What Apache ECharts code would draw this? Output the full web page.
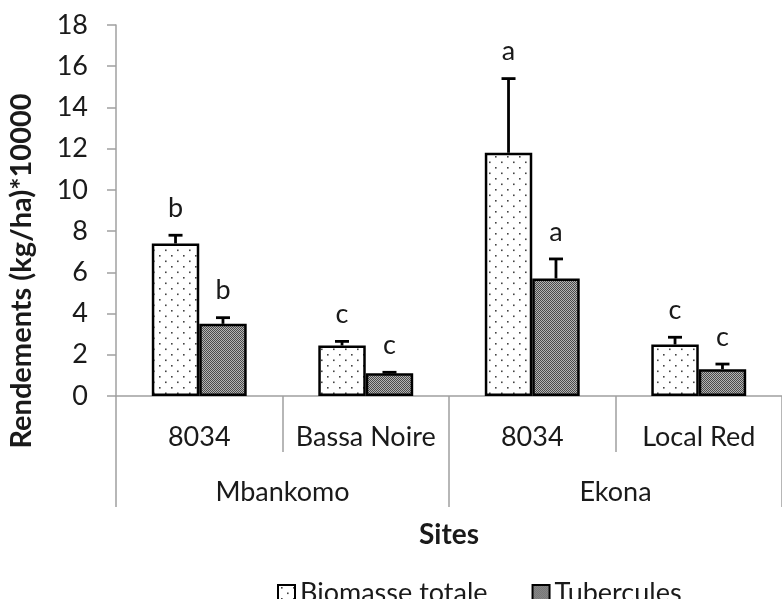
<!DOCTYPE html>
<html>
<head>
<meta charset="utf-8">
<script src="https://cdn.jsdelivr.net/npm/echarts@6/dist/echarts.min.js"></script>
<style>
  html, body { margin: 0; padding: 0; background: #fff; }
  #chart { width: 782px; height: 599px; }
</style>
</head>
<body>
<div id="chart"></div>
<script>
// rendements par variete et par site
const varieties = ['8034', 'Bassa Noire', '8034', 'Local Red']
const sites = ['Mbankomo', 'Ekona']
const yTicks = [0, 18, 2]  // min, max, interval

const biomasse = [7.4, 2.45, 11.8, 2.5]
const biomasseErr = [0.4, 0.2, 3.6, 0.35]
const biomasseLetters = ['b', 'c', 'a', 'c']

const tubercules = [3.5, 1.1, 5.7, 1.3]
const tuberculesErr = [0.3, 0.05, 0.95, 0.25]
const tuberculesLetters = ['b', 'c', 'a', 'c']

const FONT = 'Lato'
const FS = 27
const TXT = '#1a1a1a'
const AXIS = '#a0a0a0'
const GAP = 0.43

// motifs de remplissage
function dotPattern() {
  const c = document.createElement('canvas')
  c.width = 12; c.height = 11
  const ctx = c.getContext('2d')
  ctx.fillStyle = '#fff'
  ctx.fillRect(0, 0, 12, 11)
  ctx.fillStyle = '#444'
  ctx.fillRect(3, 2, 1.6, 1.6)
  ctx.fillRect(9, 7.5, 1.6, 1.6)
  return c
}
function checkerPattern() {
  const c = document.createElement('canvas')
  c.width = 2; c.height = 2
  const ctx = c.getContext('2d')
  ctx.fillStyle = '#b4b4b4'
  ctx.fillRect(0, 0, 2, 2)
  ctx.fillStyle = '#4a4a4a'
  ctx.fillRect(0, 0, 1, 1)
  ctx.fillRect(1, 1, 1, 1)
  return c
}

const dotFill = { image: dotPattern(), repeat: 'repeat' }
const greyFill = { image: checkerPattern(), repeat: 'repeat' }

function errorSeries(name, values, errs, letters, side) {
  return {
    name: name,
    type: 'custom',
    xAxisIndex: 0,
    z: 5,
    data: values.map((v, i) => [i, v, errs[i]]),
    renderItem: (params, api) => {
      const i = api.value(0), v = api.value(1), e = api.value(2)
      const band = api.size([1, 0])[0]
      const barW = band * (1 - GAP) / 2
      const p0 = api.coord([i, v])
      const p1 = api.coord([i, v + e])
      const x = p0[0] + side * barW / 2
      const stroke = { stroke: '#000', lineWidth: 2.8 }
      return {
        type: 'group',
        children: [
          { type: 'line', shape: { x1: x, y1: p0[1], x2: x, y2: p1[1] }, style: stroke },
          { type: 'line', shape: { x1: x - 7, y1: p1[1], x2: x + 7, y2: p1[1] }, style: stroke },
          {
            type: 'text',
            style: {
              text: letters[params.dataIndex], x: x, y: p1[1] - 27,
              align: 'center', verticalAlign: 'middle',
              fontFamily: FONT, fontSize: FS, fill: TXT
            }
          }
        ]
      }
    }
  }
}

const chart = echarts.init(document.getElementById('chart'))

chart.setOption({
  animation: false,
  backgroundColor: '#fff',
  grid: { left: 116, top: 25, width: 676, height: 371 },
  legend: {
    data: ['Biomasse totale', 'Tubercules'],
    left: 272, top: 575,
    icon: 'rect', itemWidth: 17, itemHeight: 17, itemGap: 44,
    textStyle: { fontFamily: FONT, fontSize: FS, color: TXT }
  },
  graphic: [{
    type: 'text',
    x: 22, y: 271,
    rotation: Math.PI / 2,
    style: {
      text: 'Rendements (kg/ha)*10000',
      align: 'center', verticalAlign: 'middle',
      fontFamily: FONT, fontSize: 29, fontWeight: 'bold', fill: TXT
    }
  }],
  xAxis: [
    {
      type: 'category', data: varieties, position: 'bottom',
      axisLine: { lineStyle: { color: AXIS, width: 1.5 } },
      axisTick: { show: true, interval: 0, length: 56, lineStyle: { color: AXIS, width: 1.5 } },
      axisLabel: { interval: 0, margin: 28, fontFamily: FONT, fontSize: FS, color: TXT }
    },
    {
      type: 'category', data: sites, position: 'bottom', offset: 0,
      axisLine: { show: false },
      axisTick: { show: true, interval: 0, length: 111, lineStyle: { color: AXIS, width: 1.5 } },
      axisLabel: { interval: 0, margin: 83, fontFamily: FONT, fontSize: FS, color: TXT },
      name: 'Sites', nameLocation: 'middle', nameGap: 125,
      nameTextStyle: { fontFamily: FONT, fontSize: 28, fontWeight: 'bold', color: TXT }
    }
  ],
  yAxis: {
    type: 'value', min: yTicks[0], max: yTicks[1], interval: yTicks[2],
    axisLine: { show: true, lineStyle: { color: AXIS, width: 1.5 } },
    axisTick: { show: true, length: 9, lineStyle: { color: AXIS, width: 1.5 } },
    axisLabel: { margin: 28, fontFamily: FONT, fontSize: FS, color: TXT },
    splitLine: { show: false }
  },
  series: [
    {
      name: 'Biomasse totale', type: 'bar', xAxisIndex: 0,
      data: biomasse,
      barGap: 0, barCategoryGap: (GAP * 100) + '%',
      itemStyle: { color: dotFill, borderColor: '#000', borderWidth: 2.5 }
    },
    {
      name: 'Tubercules', type: 'bar', xAxisIndex: 0,
      data: tubercules,
      barGap: 0, barCategoryGap: (GAP * 100) + '%',
      itemStyle: { color: greyFill, borderColor: '#000', borderWidth: 2.5 }
    },
    errorSeries('err-biomasse', biomasse, biomasseErr, biomasseLetters, -1),
    errorSeries('err-tubercules', tubercules, tuberculesErr, tuberculesLetters, 1)
  ]
})
</script>
</body>
</html>
